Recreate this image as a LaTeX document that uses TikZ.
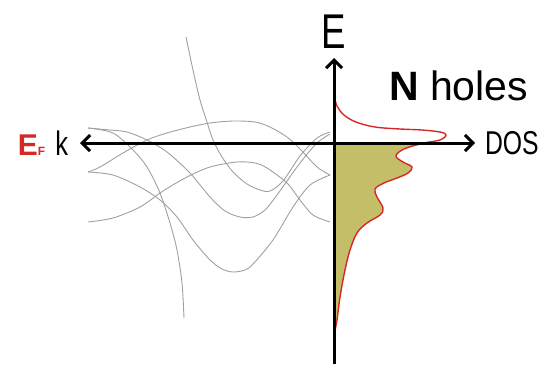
\documentclass[tikz,border=0pt]{standalone}
\usepackage{fontspec}
\setmainfont{Liberation Sans}
\newfontfamily\condfont[FakeStretch=0.75]{Liberation Sans}
\usetikzlibrary{positioning,arrows.meta}
\definecolor{dosred}{RGB}{215,40,40}
\definecolor{dosolive}{RGB}{196,190,104}
\definecolor{bandgray}{RGB}{160,160,160}
\tikzset{barb/.tip={Straight Barb[length=4pt,width=8pt]}}

\begin{document}
\begin{tikzpicture}[x=0.5pt,y=-0.5pt,
  axis/.style={line width=1.5pt},
  band/.style={bandgray,line width=0.45pt},
  dosline/.style={dosred,line width=0.7pt},
  lbl/.style={inner sep=0pt,outer sep=0pt}]
  \useasboundingbox (0,0) rectangle (544,370);
  \coordinate (O) at (334,143);
  \coordinate (eTip) at (334,58);
  \coordinate (eEnd) at (334,364);
  \coordinate (kTip) at (80,143);
  \coordinate (dosTip) at (475,143);
  % density of states, filled below E_F
  \begin{scope}
    \clip (O) rectangle (544,370);
    \fill[dosolive] plot[smooth,tension=0.6] coordinates {(334,95) (337,106) (344,115) (356,122) (375,127) (400,129) (422,130) (440,132) (446,135) (440,140) (424,143) (404,149) (396,156) (403,162) (412,167) (408,173) (397,178) (384,183) (375,189) (377,197) (383,208) (380,215) (367,223) (357,233) (350,250) (345,270) (340,297) (337,320) (334,335)} -- cycle;
  \end{scope}
  % bands
  \draw[band] plot[smooth] coordinates {(186,37) (193,70) (200,100) (207,122) (213,140) (222,157) (233,172) (247,184) (260,190) (270,191) (283,181) (300,156) (317,138) (330,132)};
  \draw[band] plot[smooth] coordinates {(88,128) (110,130) (127,132) (147,140) (167,152) (190,173) (210,197) (225,211) (240,217) (253,217) (265,210) (277,195) (300,163) (317,143) (330,134)};
  \draw[band] plot[smooth] coordinates {(88,128) (113,133) (133,150) (147,167) (160,193) (170,223) (177,250) (182,283) (184,318)};
  \draw[band] plot[smooth] coordinates {(88,172) (100,167) (123,153) (147,140) (167,133) (190,127) (210,123) (233,121) (255,122) (270,127) (287,137) (300,149) (317,167) (330,175)};
  \draw[band] plot[smooth] coordinates {(88,172) (113,175) (140,187) (160,200) (177,217) (193,240) (210,260) (222,269) (233,272) (245,270) (253,264) (273,240) (293,207) (310,185) (330,175)};
  \draw[band] plot[smooth] coordinates {(88,222) (113,218) (140,207) (163,191) (187,177) (210,167) (237,162) (255,163) (267,168) (287,183) (300,200) (313,215) (330,222)};
  \draw[dosline] plot[smooth,tension=0.6] coordinates {(334,95) (337,106) (344,115) (356,122) (375,127) (400,129) (422,130) (440,132) (446,135) (440,140) (424,143) (404,149) (396,156) (403,162) (412,167) (408,173) (397,178) (384,183) (375,189) (377,197) (383,208) (380,215) (367,223) (357,233) (350,250) (345,270) (340,297) (337,320) (334,335)};
  % axes
  \draw[axis,-barb] (eEnd) -- (eTip);
  \draw[axis,barb-barb] (kTip) -- (dosTip);
  \node[lbl,above=5pt of eTip,font=\condfont\fontsize{24.4}{26}\selectfont] (elab) {E};
  \node[lbl,right=5pt of dosTip,font=\condfont\fontsize{16.5}{18}\selectfont] (dos) {DOS};
  \node[lbl,left=6pt of kTip,font=\condfont\fontsize{17}{19}\selectfont] (k) {k};
  \node[lbl,base left=5pt of k,text=dosred,font=\bfseries\fontsize{15}{17}\selectfont] (ef) {E{\fontsize{6}{7}\selectfont F}};
  \node[lbl,anchor=base west,font=\fontsize{20.5}{23}\selectfont] (holes) at (389,100) {\textbf{N} holes};
\end{tikzpicture}
\end{document}
